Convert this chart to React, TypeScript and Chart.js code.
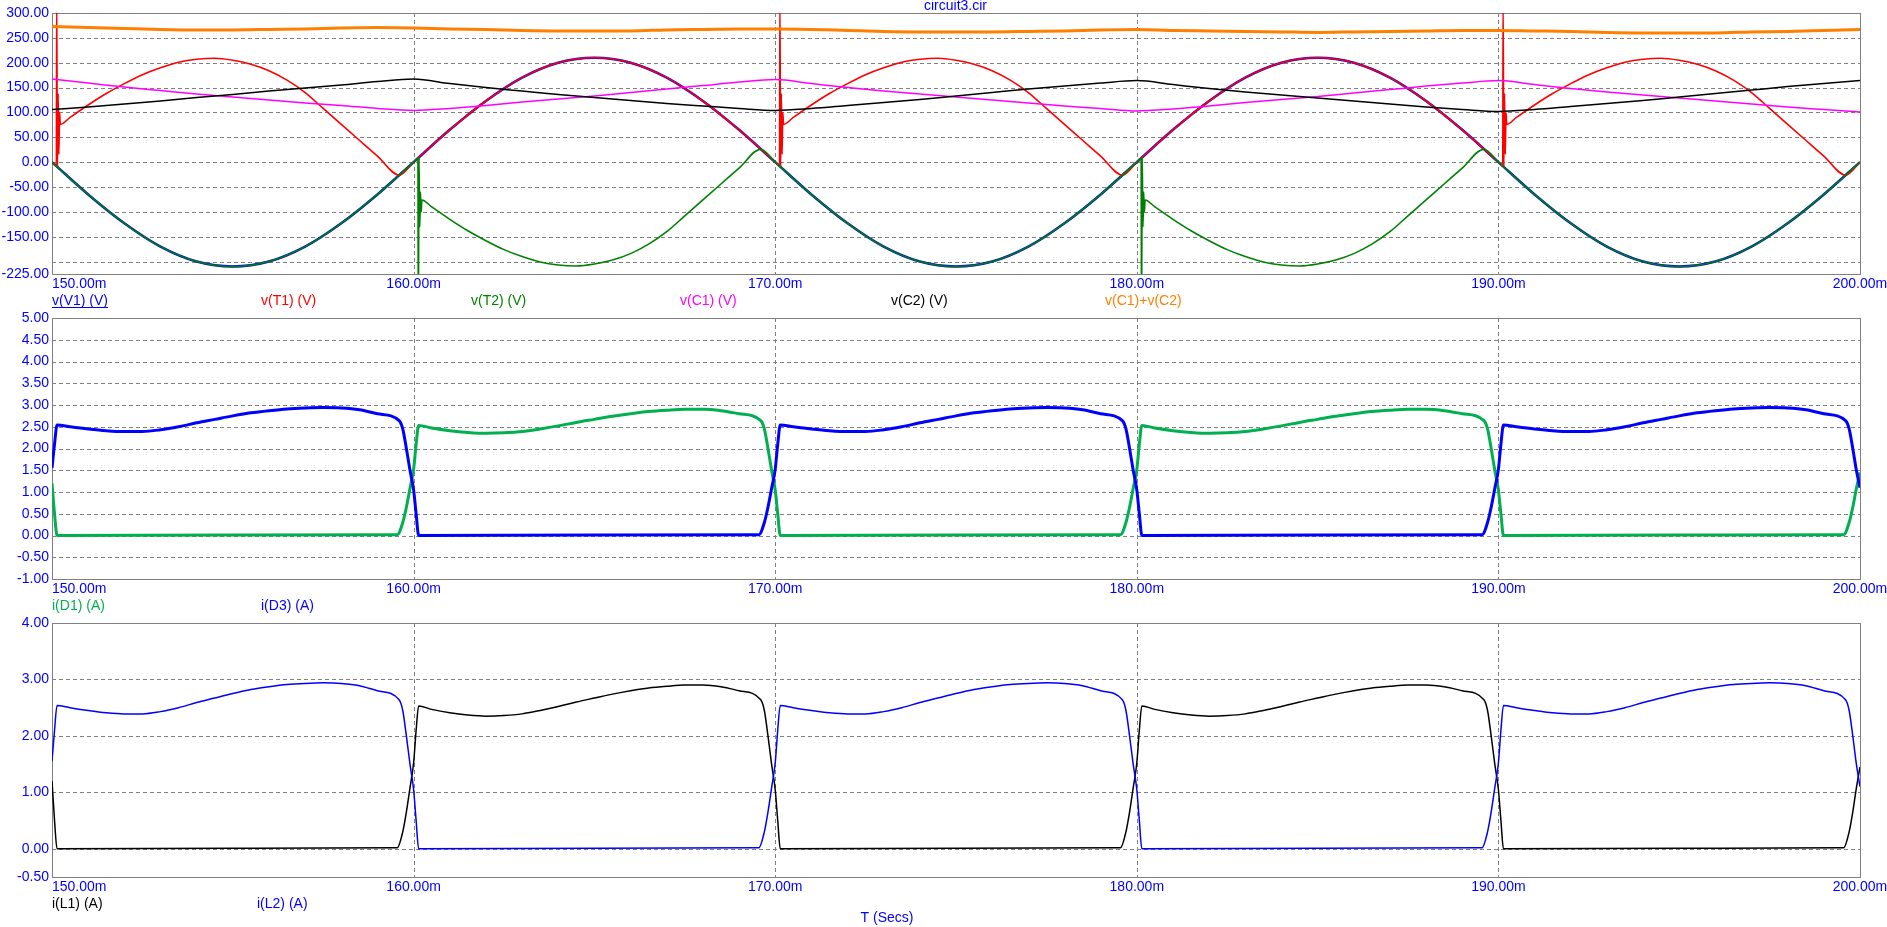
import React, { useEffect, useRef } from "react";
import { Chart, registerables } from "chart.js";

Chart.register(...registerables);

const FONT = '"Liberation Sans", Arial, Helvetica, sans-serif';
const BLUE = "#0000ff";
const GRID = "#808080";
const W = 1887;
const H = 927;

// ---------- X axis ----------
const xTicks = [150, 160, 170, 180, 190, 200];
const xTickLabels = ["150.00m", "160.00m", "170.00m", "180.00m", "190.00m", "200.00m"];
const xGrid = [160, 170, 180, 190];

// ---------- Panel 1 axis ----------
const p1YTicks = [300, 250, 200, 150, 100, 50, 0, -50, -100, -150, -200, -225];
const p1YLabels = ["300.00", "250.00", "200.00", "150.00", "100.00", "50.00", "0.00", "-50.00", "-100.00", "-150.00", "", "-225.00"];
const p1YGrid = [250, 200, 150, 100, 50, 0, -50, -100, -150, -200];

// ---------- Panel 2 axis ----------
const p2YTicks = [5, 4.5, 4, 3.5, 3, 2.5, 2, 1.5, 1, 0.5, 0, -0.5, -1];
const p2YLabels = ["5.00", "4.50", "4.00", "3.50", "3.00", "2.50", "2.00", "1.50", "1.00", "0.50", "0.00", "-0.50", "-1.00"];
const p2YGrid = [4.5, 4, 3.5, 3, 2.5, 2, 1.5, 1, 0.5, 0, -0.5];

// ---------- Panel 3 axis ----------
const p3YTicks = [4, 3, 2, 1, 0, -0.5];
const p3YLabels = ["4.00", "3.00", "2.00", "1.00", "0.00", "-0.50"];
const p3YGrid = [3, 2, 1, 0];

// ---------- Panel 1 data (ms, V) ----------
const tMs = [150, 151, 152, 153, 154, 155, 156, 157, 158, 159, 160, 161, 162, 163, 164, 165, 166, 167, 168, 169, 170, 171, 172, 173, 174, 175, 176, 177, 178, 179, 180, 181, 182, 183, 184, 185, 186, 187, 188, 189, 190, 191, 192, 193, 194, 195, 196, 197, 198, 199, 200];

const vV1 = [0, -65, -123, -170, -200, -210, -200, -170, -123, -65, 0, 65, 123, 170, 200, 210, 200, 170, 123, 65, 0, -65, -123, -170, -200, -210, -200, -170, -123, -65, 0, 65, 123, 170, 200, 210, 200, 170, 123, 65, 0, -65, -123, -170, -200, -210, -200, -170, -123, -65, 0];

const vC1 = [167, 159, 151, 144, 137, 131, 125, 119, 114, 108, 104, 108, 114, 121, 127, 133, 140, 147, 154, 161, 166, 158, 150, 143, 137, 131, 125, 119, 113, 108, 103, 107, 113, 120, 126, 132, 139, 146, 153, 159, 164, 156, 148, 141, 135, 129, 123, 117, 111, 106, 101];

const vC2 = [106, 111, 117, 123, 130, 136, 143, 149, 155, 162, 167, 158, 150, 143, 136, 130, 124, 118, 113, 108, 104, 108, 114, 120, 126, 133, 140, 147, 153, 159, 164, 156, 148, 141, 135, 129, 123, 117, 111, 106, 102, 106, 112, 118, 124, 131, 138, 145, 152, 158, 164];

const vSum = [273, 271, 269, 267, 266, 266, 267, 268, 270, 271, 270, 268, 267, 265, 264, 264, 264, 266, 267, 268, 268, 267, 265, 263, 262, 262, 262, 263, 264, 266, 267, 265, 264, 263, 262, 261, 262, 263, 264, 265, 265, 264, 263, 261, 260, 260, 260, 262, 263, 265, 267];

const tT1 = [
  150, 150.12, 150.13, 150.15, 150.17, 150.19, 150.21, 150.23,
  150.5, 151, 151.5, 152, 152.5, 153, 153.5, 154, 154.5, 155, 155.5, 156, 156.5, 157, 157.5, 158, 158.5, 159, 159.6,
  160, 161, 162, 163, 164, 165, 166, 167, 168, 169, 170,
  170.12, 170.13, 170.15, 170.17, 170.19, 170.21, 170.23,
  170.5, 171, 171.5, 172, 172.5, 173, 173.5, 174, 174.5, 175, 175.5, 176, 176.5, 177, 177.5, 178, 178.5, 179, 179.6,
  180, 181, 182, 183, 184, 185, 186, 187, 188, 189, 190,
  190.12, 190.13, 190.15, 190.17, 190.19, 190.21, 190.23,
  190.5, 191, 191.5, 192, 192.5, 193, 193.5, 194, 194.5, 195, 195.5, 196, 196.5, 197, 197.5, 198, 198.5, 199, 199.6,
  200,
];
const vT1 = [
  0, -8, 330, -10, 138, 16, 100, 76,
  90, 115, 138, 158, 176, 190, 201, 207, 209, 205, 197, 184, 165, 140, 108, 76, 44, 12, -26,
  0, 65, 123, 170, 200, 210, 200, 170, 123, 65, 0,
  -8, 330, -10, 138, 16, 100, 76,
  90, 115, 138, 158, 176, 190, 201, 207, 209, 205, 197, 184, 165, 140, 108, 76, 44, 12, -26,
  0, 65, 123, 170, 200, 210, 200, 170, 123, 65, 0,
  -8, 330, -10, 138, 16, 100, 76,
  90, 115, 138, 158, 176, 190, 201, 207, 209, 205, 197, 184, 165, 140, 108, 76, 44, 12, -26,
  0,
];

const tT2 = [
  150, 151, 152, 153, 154, 155, 156, 157, 158, 159, 160,
  160.12, 160.13, 160.15, 160.17, 160.19, 160.21, 160.23,
  160.5, 161, 161.5, 162, 162.5, 163, 163.5, 164, 164.5, 165, 165.5, 166, 166.5, 167, 167.5, 168, 168.5, 169, 169.6,
  170, 171, 172, 173, 174, 175, 176, 177, 178, 179, 180,
  180.12, 180.13, 180.15, 180.17, 180.19, 180.21, 180.23,
  180.5, 181, 181.5, 182, 182.5, 183, 183.5, 184, 184.5, 185, 185.5, 186, 186.5, 187, 187.5, 188, 188.5, 189, 189.6,
  190, 191, 192, 193, 194, 195, 196, 197, 198, 199, 200,
];
const vT2 = [
  0, -65, -123, -170, -200, -210, -200, -170, -123, -65, 0,
  8, -330, 10, -130, -60, -100, -76,
  -90, -115, -138, -158, -176, -190, -201, -207, -209, -205, -197, -184, -165, -140, -108, -76, -44, -12, 26,
  0, -65, -123, -170, -200, -210, -200, -170, -123, -65, 0,
  8, -330, 10, -130, -60, -100, -76,
  -90, -115, -138, -158, -176, -190, -201, -207, -209, -205, -197, -184, -165, -140, -108, -76, -44, -12, 26,
  0, -65, -123, -170, -200, -210, -200, -170, -123, -65, 0,
];

// ---------- Panel 2 data (ms, A) ----------
const tD3 = [
  150, 150.07, 150.14,
  150.5, 151, 151.5, 152, 152.5, 153, 153.5, 154, 154.5, 155, 155.5, 156, 156.5, 157, 157.5, 158, 158.5, 159,
  159.6, 159.7, 159.8, 159.9, 160, 160.07, 160.14,
  165, 169.55, 169.7, 169.8, 169.9, 170, 170.07, 170.14,
  170.5, 171, 171.5, 172, 172.5, 173, 173.5, 174, 174.5, 175, 175.5, 176, 176.5, 177, 177.5, 178, 178.5, 179,
  179.6, 179.7, 179.8, 179.9, 180, 180.07, 180.14,
  185, 189.55, 189.7, 189.8, 189.9, 190, 190.07, 190.14,
  190.5, 191, 191.5, 192, 192.5, 193, 193.5, 194, 194.5, 195, 195.5, 196, 196.5, 197, 197.5, 198, 198.5, 199,
  199.6, 199.7, 199.8, 199.9, 200,
];
const iD3 = [
  1.55, 2.1, 2.54,
  2.5, 2.45, 2.41, 2.39, 2.39, 2.43, 2.5, 2.59, 2.67, 2.75, 2.82, 2.87, 2.91, 2.93, 2.94, 2.93, 2.89, 2.8,
  2.64, 2.45, 2.0, 1.5, 1.05, 0.5, 0.0,
  0.01, 0.02, 0.3, 0.65, 1.08, 1.52, 2.1, 2.54,
  2.5, 2.45, 2.41, 2.39, 2.39, 2.43, 2.5, 2.59, 2.67, 2.75, 2.82, 2.87, 2.91, 2.93, 2.94, 2.93, 2.89, 2.8,
  2.64, 2.45, 2.0, 1.5, 1.05, 0.5, 0.0,
  0.01, 0.02, 0.3, 0.65, 1.08, 1.52, 2.1, 2.54,
  2.5, 2.45, 2.41, 2.39, 2.39, 2.43, 2.5, 2.59, 2.67, 2.75, 2.82, 2.87, 2.91, 2.93, 2.94, 2.93, 2.89, 2.8,
  2.64, 2.45, 2.0, 1.5, 1.1,
];

const tD1 = [
  150, 150.07, 150.14,
  155, 159.55, 159.7, 159.8, 159.9, 160, 160.07, 160.14,
  160.5, 161, 161.5, 162, 162.5, 163, 163.5, 164, 164.5, 165, 165.5, 166, 166.5, 167, 167.5, 168, 168.5, 169,
  169.6, 169.7, 169.8, 169.9, 170, 170.07, 170.14,
  175, 179.55, 179.7, 179.8, 179.9, 180, 180.07, 180.14,
  180.5, 181, 181.5, 182, 182.5, 183, 183.5, 184, 184.5, 185, 185.5, 186, 186.5, 187, 187.5, 188, 188.5, 189,
  189.6, 189.7, 189.8, 189.9, 190, 190.07, 190.14,
  195, 199.55, 199.7, 199.8, 199.9, 200,
];
const iD1 = [
  1.2, 0.5, 0.0,
  0.01, 0.02, 0.3, 0.65, 1.08, 1.52, 2.1, 2.53,
  2.47, 2.41, 2.37, 2.35, 2.36, 2.39, 2.45, 2.52, 2.6, 2.67, 2.74, 2.8, 2.85, 2.88, 2.9, 2.9, 2.87, 2.8,
  2.64, 2.45, 2.0, 1.5, 1.05, 0.5, 0.0,
  0.01, 0.02, 0.3, 0.65, 1.08, 1.52, 2.1, 2.53,
  2.47, 2.41, 2.37, 2.35, 2.36, 2.39, 2.45, 2.52, 2.6, 2.67, 2.74, 2.8, 2.85, 2.88, 2.9, 2.9, 2.87, 2.8,
  2.64, 2.45, 2.0, 1.5, 1.05, 0.5, 0.0,
  0.01, 0.02, 0.3, 0.65, 1.08, 1.45,
];

// ---------- Panel 3 data (inductor currents, same waveforms as diodes) ----------
const tL1 = tD1;
const iL1 = iD1;
const tL2 = tD3;
const iL2 = iD3;

type Series = { label: string; color: string; width: number; t: number[]; v: number[] };
type Legend = { text: string; color: string; x: number; underline?: boolean };
type Panel = {
  top: number;
  bottom: number;
  yMin: number;
  yMax: number;
  yTicks: number[];
  yLabels: string[];
  yGrid: number[];
  series: Series[];
  legend: Legend[];
  extra: { text: string; x: number; y: number }[];
};

const panels: Panel[] = [
  {
    top: 13,
    bottom: 274,
    yMin: -225,
    yMax: 300,
    yTicks: p1YTicks,
    yLabels: p1YLabels,
    yGrid: p1YGrid,
    series: [
      { label: "v(V1) (V)", color: "#0000ff", width: 2.5, t: tMs, v: vV1 },
      { label: "v(T1) (V)", color: "#ff0000", width: 1.6, t: tT1, v: vT1 },
      { label: "v(T2) (V)", color: "#008000", width: 1.6, t: tT2, v: vT2 },
      { label: "v(C1) (V)", color: "#ff00ff", width: 1.5, t: tMs, v: vC1 },
      { label: "v(C2) (V)", color: "#000000", width: 1.5, t: tMs, v: vC2 },
      { label: "v(C1)+v(C2)", color: "#ff8000", width: 3, t: tMs, v: vSum },
    ],
    legend: [
      { text: "v(V1) (V)", color: "#0000ff", x: 52, underline: true },
      { text: "v(T1) (V)", color: "#ff0000", x: 261 },
      { text: "v(T2) (V)", color: "#008000", x: 471 },
      { text: "v(C1) (V)", color: "#ff00ff", x: 680 },
      { text: "v(C2) (V)", color: "#000000", x: 891 },
      { text: "v(C1)+v(C2)", color: "#ff8000", x: 1105 },
    ],
    extra: [{ text: "circuit3.cir", x: 955.5, y: 6 }],
  },
  {
    top: 318,
    bottom: 579,
    yMin: -1,
    yMax: 5,
    yTicks: p2YTicks,
    yLabels: p2YLabels,
    yGrid: p2YGrid,
    series: [
      { label: "i(D1) (A)", color: "#00b050", width: 3, t: tD1, v: iD1 },
      { label: "i(D3) (A)", color: "#0000ff", width: 3, t: tD3, v: iD3 },
    ],
    legend: [
      { text: "i(D1) (A)", color: "#00b050", x: 52 },
      { text: "i(D3) (A)", color: "#0000ff", x: 261 },
    ],
    extra: [],
  },
  {
    top: 623,
    bottom: 877,
    yMin: -0.5,
    yMax: 4,
    yTicks: p3YTicks,
    yLabels: p3YLabels,
    yGrid: p3YGrid,
    series: [
      { label: "i(L1) (A)", color: "#000000", width: 1.5, t: tL1, v: iL1 },
      { label: "i(L2) (A)", color: "#0000ff", width: 1.5, t: tL2, v: iL2 },
    ],
    legend: [
      { text: "i(L1) (A)", color: "#000000", x: 52 },
      { text: "i(L2) (A)", color: "#0000ff", x: 257 },
    ],
    extra: [{ text: "T (Secs)", x: 887, y: 918 }],
  },
];

function makeDecor(p: Panel) {
  return {
    id: "decor",
    beforeDatasetsDraw(chart: any) {
      const { ctx, chartArea: a, scales } = chart;
      const xs = scales.x;
      const ys = scales.y;
      const l = Math.round(a.left);
      const r = Math.round(a.right);
      const t = Math.round(a.top);
      const b = Math.round(a.bottom);
      ctx.save();
      ctx.strokeStyle = GRID;
      ctx.lineWidth = 1;
      ctx.setLineDash([4, 3]);
      for (const v of p.yGrid) {
        const py = Math.round(ys.getPixelForValue(v)) + 0.5;
        ctx.beginPath();
        ctx.moveTo(l, py);
        ctx.lineTo(r, py);
        ctx.stroke();
      }
      for (const v of xGrid) {
        const px = Math.round(xs.getPixelForValue(v)) + 0.5;
        ctx.beginPath();
        ctx.moveTo(px, t);
        ctx.lineTo(px, b);
        ctx.stroke();
      }
      ctx.setLineDash([]);
      ctx.strokeRect(l + 0.5, t + 0.5, r - l, b - t);
      ctx.restore();
    },
    afterDraw(chart: any) {
      const { ctx, chartArea: a, scales } = chart;
      const xs = scales.x;
      ctx.save();
      ctx.font = `14px ${FONT}`;
      ctx.textBaseline = "middle";
      ctx.fillStyle = BLUE;
      xTicks.forEach((v, i) => {
        if (i === 0) {
          ctx.textAlign = "left";
          ctx.fillText(xTickLabels[i], a.left, a.bottom + 10.5);
        } else {
          ctx.textAlign = "center";
          ctx.fillText(xTickLabels[i], xs.getPixelForValue(v), a.bottom + 10.5);
        }
      });
      ctx.textAlign = "left";
      const ly = a.bottom + 27;
      for (const lg of p.legend) {
        ctx.fillStyle = lg.color;
        ctx.fillText(lg.text, lg.x, ly);
        if (lg.underline) {
          const w = ctx.measureText(lg.text).width;
          ctx.strokeStyle = lg.color;
          ctx.lineWidth = 1;
          ctx.beginPath();
          ctx.moveTo(lg.x, Math.round(ly + 6) + 0.5);
          ctx.lineTo(lg.x + w, Math.round(ly + 6) + 0.5);
          ctx.stroke();
        }
      }
      ctx.fillStyle = BLUE;
      ctx.textAlign = "center";
      for (const e of p.extra) {
        ctx.fillText(e.text, e.x, e.y);
      }
      ctx.restore();
    },
  };
}

function buildChart(canvas: HTMLCanvasElement, p: Panel) {
  const n = p.series.length;
  return new Chart(canvas, {
    type: "line",
    data: {
      datasets: p.series.map((s, i) => ({
        label: s.label,
        data: s.t.map((x, k) => ({ x, y: s.v[k] })),
        borderColor: s.color,
        backgroundColor: s.color,
        borderWidth: s.width,
        pointRadius: 0,
        pointHoverRadius: 0,
        fill: false,
        cubicInterpolationMode: "monotone",
        borderJoinStyle: "round",
        clip: 0,
        order: n - i,
      })),
    },
    options: {
      responsive: false,
      maintainAspectRatio: false,
      animation: false,
      events: [],
      layout: { padding: { left: 0, right: 27, top: p.top, bottom: H - p.bottom } },
      plugins: {
        legend: { display: false },
        tooltip: { enabled: false },
        title: { display: false },
      },
      scales: {
        x: { type: "linear", min: 150, max: 200, display: false },
        y: {
          type: "linear",
          min: p.yMin,
          max: p.yMax,
          afterBuildTicks: (s: any) => {
            s.ticks = p.yTicks.map((value) => ({ value }));
          },
          afterFit: (s: any) => {
            s.width = 52;
          },
          grid: { display: false, drawTicks: false },
          border: { display: false },
          ticks: {
            color: BLUE,
            font: { family: FONT, size: 14 },
            padding: 3,
            autoSkip: false,
            callback: (_v: any, i: number) => p.yLabels[i],
          },
        },
      },
    } as any,
    plugins: [makeDecor(p)],
  } as any);
}

export default function App() {
  const r1 = useRef<HTMLCanvasElement>(null);
  const r2 = useRef<HTMLCanvasElement>(null);
  const r3 = useRef<HTMLCanvasElement>(null);

  useEffect(() => {
    const refs = [r1, r2, r3];
    const charts = refs.map((r, i) => buildChart(r.current as HTMLCanvasElement, panels[i]));
    return () => charts.forEach((c) => c.destroy());
  }, []);

  const cs: React.CSSProperties = { position: "absolute", left: 0, top: 0, width: W, height: H };
  return (
    <div style={{ position: "absolute", left: 0, top: 0, width: W, height: H, background: "#ffffff", overflow: "hidden" }}>
      <canvas ref={r1} width={W} height={H} style={cs} />
      <canvas ref={r2} width={W} height={H} style={cs} />
      <canvas ref={r3} width={W} height={H} style={cs} />
    </div>
  );
}
